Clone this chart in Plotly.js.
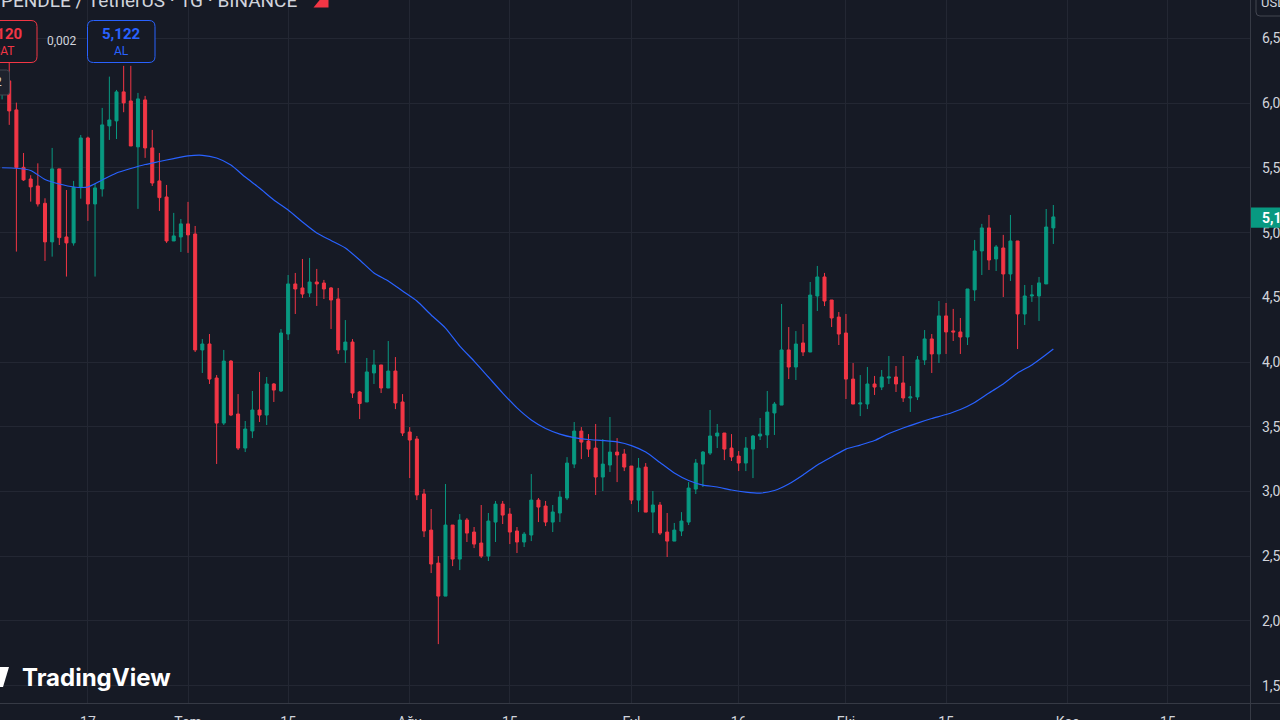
<!DOCTYPE html>
<html>
<head>
<meta charset="utf-8">
<script src="https://cdn.plot.ly/plotly-3.0.1.min.js"></script>
<style>
  html, body { margin: 0; padding: 0; background: #161a25; overflow: hidden; }
  #chart { width: 1280px; height: 720px; }
</style>
</head>
<body>
<div id="chart"></div>
<script>
// PENDLE / TetherUS daily candles, 2024-06-05 .. 2024-10-30
var firstDay = '2024-06-05';

var opens = [
  6.08, 6.173, 5.949, 5.505, 5.415, 5.361, 5.227, 4.929, 5.493, 4.967,
  4.921, 5.348, 5.732, 5.222, 5.338, 5.825, 5.864, 6.088, 6.018, 5.663,
  6.026, 5.655, 5.40, 5.276, 4.936, 4.967, 5.068, 4.990, 4.094, 4.14,
  3.877, 3.529, 4.008, 3.599, 3.336, 3.468, 3.63, 3.591, 3.831, 3.777,
  4.217, 4.604, 4.573, 4.534, 4.619, 4.611, 4.573, 4.488, 4.094, 4.155,
  3.769, 3.692, 3.916, 3.978, 3.80, 3.931, 3.692, 3.46, 3.406, 2.981,
  2.702, 2.447, 2.192, 2.741, 2.478, 2.78, 2.687, 2.602, 2.501, 2.764,
  2.903, 2.826, 2.695, 2.61, 2.664, 2.934, 2.888, 2.764, 2.834, 2.95,
  3.212, 3.467, 3.39, 3.336, 3.112, 3.205, 3.305, 3.29, 3.197, 2.934,
  3.189, 2.841, 2.896, 2.687, 2.617, 2.695, 2.764, 3.019, 3.212, 3.297,
  3.429, 3.452, 3.336, 3.274, 3.22, 3.328, 3.429, 3.437, 3.607, 3.668,
  4.094, 3.962, 4.148, 4.078, 4.511, 4.658, 4.48, 4.348, 4.225, 3.869,
  3.676, 3.676, 3.831, 3.807, 3.877, 3.885, 3.839, 3.723, 3.731, 4.017,
  4.179, 4.063, 4.357, 4.241, 4.233, 4.194, 4.558, 4.859, 5.037, 4.797,
  4.882, 4.681, 4.936, 4.372, 4.511, 4.511, 4.604, 5.037
];
var highs = [
  6.25, 6.32, 6.005, 5.616, 5.444, 5.536, 5.266, 5.655, 5.493, 5.33,
  5.40, 5.755, 5.742, 5.377, 5.964, 6.206, 6.103, 6.289, 6.289, 6.08,
  6.057, 5.794, 5.616, 5.369, 5.153, 5.106, 5.238, 5.052, 4.178, 4.217,
  3.90, 4.094, 4.016, 3.753, 3.545, 3.777, 3.924, 3.885, 3.838, 4.256,
  4.673, 4.689, 4.797, 4.805, 4.72, 4.635, 4.58, 4.573, 4.325, 4.178,
  3.777, 4.032, 4.094, 3.978, 4.163, 4.039, 3.753, 3.498, 3.429, 3.019,
  2.865, 2.501, 3.058, 2.741, 2.826, 2.795, 2.726, 2.896, 2.834, 2.927,
  2.927, 2.872, 2.726, 2.687, 3.135, 2.95, 2.927, 2.896, 3.004, 3.266,
  3.537, 3.498, 3.444, 3.522, 3.406, 3.576, 3.413, 3.328, 3.197, 3.259,
  3.22, 3.004, 2.919, 2.834, 2.757, 2.841, 3.073, 3.251, 3.313, 3.63,
  3.522, 3.452, 3.444, 3.313, 3.421, 3.437, 3.568, 3.777, 3.692, 4.449,
  4.271, 4.24, 4.294, 4.619, 4.743, 4.689, 4.48, 4.387, 4.372, 3.993,
  3.90, 3.962, 3.893, 3.939, 4.047, 3.970, 4.047, 3.815, 4.047, 4.248,
  4.217, 4.472, 4.457, 4.411, 4.341, 4.565, 4.944, 5.068, 5.137, 4.905,
  4.983, 5.137, 4.936, 4.596, 4.596, 4.658, 5.183, 5.214
];
var lows = [
  6.03, 5.833, 4.854, 5.40, 5.24, 5.202, 4.782, 4.815, 4.905, 4.661,
  4.90, 5.263, 5.091, 4.661, 5.279, 5.717, 5.724, 5.931, 5.67, 5.184,
  5.578, 5.361, 5.168, 4.921, 4.936, 4.851, 4.844, 4.078, 3.916, 3.831,
  3.213, 3.514, 3.583, 3.321, 3.305, 3.413, 3.537, 3.514, 3.692, 3.769,
  4.171, 4.372, 4.495, 4.503, 4.434, 4.488, 4.256, 4.063, 3.993, 3.723,
  3.56, 3.692, 3.831, 3.761, 3.80, 3.637, 3.429, 3.104, 2.934, 2.648,
  2.37, 1.821, 2.192, 2.424, 2.393, 2.61, 2.563, 2.486, 2.463, 2.61,
  2.749, 2.594, 2.525, 2.571, 2.617, 2.764, 2.733, 2.687, 2.764, 2.934,
  3.181, 3.251, 3.267, 2.973, 3.004, 3.151, 3.073, 3.158, 2.903, 2.841,
  2.841, 2.679, 2.664, 2.494, 2.617, 2.656, 2.741, 2.981, 3.035, 3.282,
  3.336, 3.243, 3.236, 3.158, 3.158, 3.104, 3.398, 3.336, 3.437, 3.668,
  3.869, 3.862, 4.047, 4.078, 4.395, 4.433, 4.271, 4.132, 3.715, 3.676,
  3.583, 3.637, 3.746, 3.784, 3.831, 3.769, 3.692, 3.615, 3.707, 3.978,
  3.916, 3.993, 4.063, 4.163, 4.063, 4.132, 4.472, 4.673, 4.712, 4.704,
  4.503, 4.627, 4.101, 4.287, 4.465, 4.318, 4.604, 4.913
];
var closes = [
  6.17, 5.941, 5.503, 5.408, 5.354, 5.222, 4.929, 5.493, 4.962, 4.921,
  5.351, 5.732, 5.222, 5.346, 5.833, 5.871, 6.088, 6.003, 5.67, 6.034,
  5.655, 5.384, 5.271, 4.936, 4.975, 5.068, 4.983, 4.094, 4.14, 3.869,
  3.529, 4.008, 3.591, 3.336, 3.483, 3.63, 3.591, 3.831, 3.784, 4.225,
  4.604, 4.565, 4.526, 4.619, 4.604, 4.565, 4.48, 4.094, 4.155, 3.761,
  3.68, 3.924, 3.978, 3.80, 3.931, 3.684, 3.452, 3.398, 2.973, 2.695,
  2.44, 2.192, 2.741, 2.478, 2.78, 2.679, 2.594, 2.501, 2.772, 2.903,
  2.818, 2.687, 2.61, 2.671, 2.934, 2.88, 2.764, 2.842, 2.957, 3.22,
  3.467, 3.382, 3.328, 3.112, 3.212, 3.305, 3.282, 3.189, 2.934, 3.181,
  2.841, 2.896, 2.679, 2.617, 2.702, 2.772, 3.027, 3.22, 3.305, 3.429,
  3.452, 3.328, 3.267, 3.22, 3.336, 3.429, 3.444, 3.614, 3.676, 4.094,
  3.962, 4.14, 4.078, 4.518, 4.658, 4.472, 4.341, 4.217, 3.869, 3.676,
  3.684, 3.831, 3.807, 3.885, 3.885, 3.831, 3.723, 3.731, 4.017, 4.179,
  4.063, 4.357, 4.233, 4.233, 4.194, 4.565, 4.859, 5.037, 4.789, 4.89,
  4.681, 4.936, 4.372, 4.511, 4.519, 4.612, 5.044, 5.122
];

// blue moving average, read every second day (from 2024-06-05) + last day
var maValues = [
  5.502, 5.498, 5.481, 5.411, 5.376, 5.353, 5.353, 5.407, 5.461, 5.496,
  5.527, 5.550, 5.573, 5.593, 5.598, 5.577, 5.523, 5.430, 5.345, 5.253,
  5.175, 5.083, 4.998, 4.940, 4.882, 4.789, 4.689, 4.627, 4.549, 4.472,
  4.364, 4.263, 4.124, 4.008, 3.885, 3.761, 3.646, 3.553, 3.487, 3.444,
  3.417, 3.402, 3.394, 3.383, 3.355, 3.305, 3.224, 3.143, 3.085, 3.050,
  3.035, 3.012, 2.996, 2.988, 3.008, 3.058, 3.128, 3.205, 3.267, 3.328,
  3.359, 3.394, 3.448, 3.491, 3.529, 3.564, 3.595, 3.634, 3.688, 3.761,
  3.831, 3.916, 3.978, 4.059, 4.101
];

var tickDates = ['2024-06-17', '2024-07-01', '2024-07-15', '2024-08-01', '2024-08-15', '2024-09-01',
                 '2024-09-16', '2024-10-01', '2024-10-15', '2024-11-01', '2024-11-15'];
var tickLabels = ['17', 'Tem', '15', 'Ağu', '15', 'Eyl', '16', 'Eki', '15', 'Kas', '15'];
var priceTicks = [1.5, 2, 2.5, 3, 3.5, 4, 4.5, 5, 5.5, 6, 6.5];

var bg = '#161a25';
var upColor = '#089981';
var downColor = '#f23645';
var textColor = '#d1d4dc';

// plot area is 1250 x 703 px starting at the top-left corner
var PW = 1250, PH = 703;
function px(x) { return x / PW; }
function py(y) { return 1 - y / PH; }

function dayString(offset) {
    var d = new Date(firstDay + 'T00:00:00Z');
    d.setUTCDate(d.getUTCDate() + offset);
    return d.toISOString().slice(0, 10);
}

var dates = [];
for (var i = 0; i < closes.length; i++) dates.push(dayString(i));

var maDates = [];
for (var i = 0; i < maValues.length - 1; i++) maDates.push(dates[i * 2]);
maDates.push(dates[dates.length - 1]);

function roundRect(x0, y0, x1, y1, r) {
    var p = 'M' + px(x0 + r) + ',' + py(y0) +
        ' L' + px(x1 - r) + ',' + py(y0) +
        ' Q' + px(x1) + ',' + py(y0) + ' ' + px(x1) + ',' + py(y0 + r) +
        ' L' + px(x1) + ',' + py(y1 - r) +
        ' Q' + px(x1) + ',' + py(y1) + ' ' + px(x1 - r) + ',' + py(y1) +
        ' L' + px(x0 + r) + ',' + py(y1) +
        ' Q' + px(x0) + ',' + py(y1) + ' ' + px(x0) + ',' + py(y1 - r) +
        ' L' + px(x0) + ',' + py(y0 + r) +
        ' Q' + px(x0) + ',' + py(y0) + ' ' + px(x0 + r) + ',' + py(y0) + ' Z';
    return p;
}

function poly(points) {
    var s = '';
    for (var i = 0; i < points.length; i++) {
        s += (i == 0 ? 'M' : ' L') + px(points[i][0]) + ',' + py(points[i][1]);
    }
    return s + ' Z';
}

function label(text, x, y, opts) {
    opts = opts || {};
    return {
        xref: 'paper', yref: 'paper', x: px(x), y: py(y),
        xanchor: opts.xanchor || 'center', yanchor: 'middle',
        text: text, showarrow: false,
        font: {
            family: opts.family || 'Roboto, sans-serif',
            size: opts.size || 12,
            color: opts.color || textColor,
            weight: opts.weight || 'normal'
        }
    };
}

var candles = {
    type: 'candlestick',
    x: dates, open: opens, high: highs, low: lows, close: closes,
    increasing: { line: { color: upColor, width: 1 }, fillcolor: upColor },
    decreasing: { line: { color: downColor, width: 1 }, fillcolor: downColor },
    whiskerwidth: 0,
    hoverinfo: 'none'
};

var maLine = {
    type: 'scatter', mode: 'lines',
    x: maDates, y: maValues,
    line: { color: '#2962ff', width: 1.2, shape: 'spline', smoothing: 0.6 },
    hoverinfo: 'none'
};

var layout = {
    width: 1280, height: 720,
    margin: { l: 0, r: 30, t: 0, b: 17, pad: 0 },
    paper_bgcolor: bg, plot_bgcolor: bg,
    showlegend: false,
    separators: ',.',
    boxgap: 0.4,
    font: { family: 'Roboto, sans-serif', size: 12, color: textColor },
    xaxis: {
        type: 'date',
        range: ['2024-06-04 17:00', '2024-11-26 12:00'],
        rangeslider: { visible: false },
        tickvals: tickDates, ticktext: tickLabels,
        ticks: '', ticklabelstandoff: 9,
        tickfont: { size: 14, color: textColor },
        showgrid: true, gridcolor: '#232733', gridwidth: 1,
        zeroline: false, showline: false, fixedrange: true
    },
    yaxis: {
        side: 'right',
        range: [1.366, 6.798],
        tickvals: priceTicks, tickformat: '.3f',
        ticks: '', ticklabelstandoff: 11,
        tickfont: { size: 14, color: textColor },
        showgrid: true, gridcolor: '#232733', gridwidth: 1,
        zeroline: false, showline: false, fixedrange: true
    },
    shapes: [
        // price axis separator and time axis line
        { type: 'line', xref: 'paper', yref: 'paper', x0: px(1250.5), x1: px(1250.5), y0: py(0), y1: py(720),
          line: { color: '#363a45', width: 1 } },
        { type: 'line', xref: 'paper', yref: 'paper', x0: px(0), x1: px(1280), y0: py(703.5), y1: py(703.5),
          line: { color: '#363a45', width: 1 } },
        // sell / buy boxes
        { type: 'path', xref: 'paper', yref: 'paper', path: roundRect(-31, 20.5, 37, 62.5, 6),
          fillcolor: bg, line: { color: downColor, width: 1 } },
        { type: 'path', xref: 'paper', yref: 'paper', path: roundRect(87.5, 20.5, 155, 62.5, 6),
          fillcolor: bg, line: { color: '#2962ff', width: 1 } },
        // small legend toggle box at the left edge
        { type: 'path', xref: 'paper', yref: 'paper', path: roundRect(-14, 70, 9.5, 95, 3),
          fillcolor: '#1e222d', line: { color: '#434651', width: 1 } },
        // market status icon next to the header
        { type: 'path', xref: 'paper', yref: 'paper',
          path: poly([[313.5, 7.5], [320.5, -1], [328.5, -1], [328.5, 7.5]]),
          fillcolor: downColor, line: { width: 0 } },
        // currency button, top right
        { type: 'path', xref: 'paper', yref: 'paper', path: roundRect(1256, -6, 1292, 16, 4),
          fillcolor: bg, line: { color: '#434651', width: 1 } },
        // last price tag
        { type: 'rect', xref: 'paper', yref: 'paper', x0: px(1251), x1: px(1290), y0: py(207.5), y1: py(227.7),
          fillcolor: upColor, line: { width: 0 } },
        // TradingView logo mark
        { type: 'path', xref: 'paper', yref: 'paper',
          path: poly([[-1, 667], [9, 667], [3, 687], [-1, 687]]),
          fillcolor: '#ffffff', line: { width: 0 } }
    ],
    annotations: [
        label('PENDLE / TetherUS · 1G · BINANCE', -1, 0, { xanchor: 'left', size: 19 }),
        label('5,120', 3, 33.5, { size: 15, color: downColor, weight: 'bold' }),
        label('SAT', 3, 50.5, { size: 12, color: downColor }),
        label('0,002', 62, 41, { size: 12 }),
        label('5,122', 121.5, 33.5, { size: 15, color: '#2962ff', weight: 'bold' }),
        label('AL', 121.5, 50.5, { size: 12, color: '#2962ff' }),
        label('2', 4, 82, { xanchor: 'right', size: 12 }),
        label('USDT', 1259, 3, { xanchor: 'left', size: 13 }),
        label('5,122', 1260, 217.5, { xanchor: 'left', size: 14, color: '#ffffff', weight: 'bold' }),
        label('TradingView', 20, 677, { xanchor: 'left', size: 24, color: '#ffffff', weight: 'bold',
                                        family: 'Inter, Roboto, sans-serif' })
    ]
};

Plotly.newPlot('chart', [candles, maLine], layout, { staticPlot: true, displayModeBar: false });
</script>
</body>
</html>
